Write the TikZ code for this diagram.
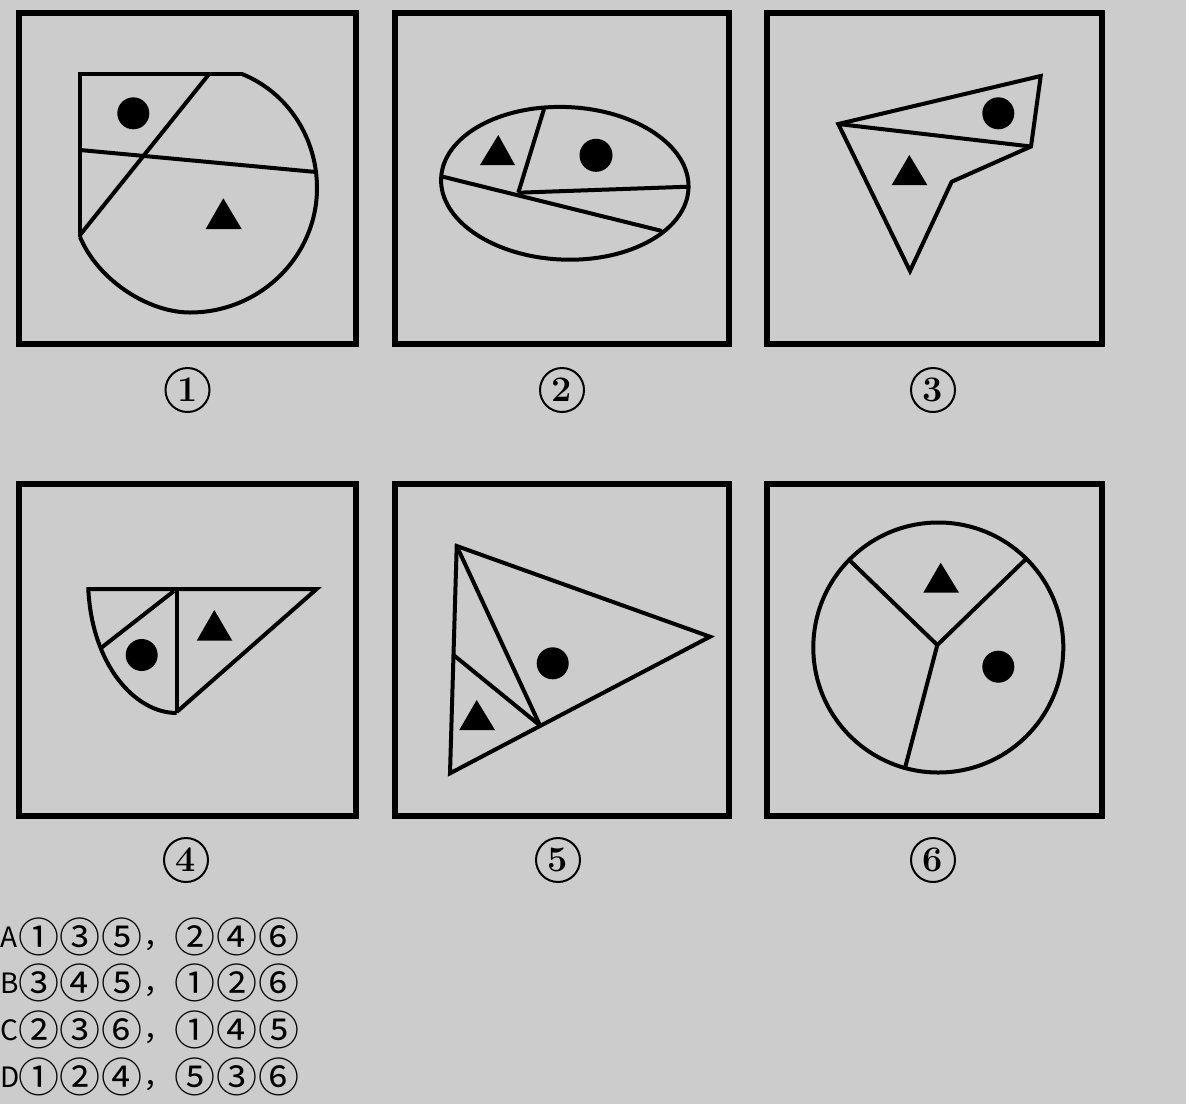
\documentclass[tikz,border=0pt]{standalone}
\usepackage{fontspec}
\newfontfamily\cjk{Noto Sans CJK SC}
\definecolor{bgc}{RGB}{204,204,204}
\newcommand\cdg[1]{\makebox[42pt][c]{\raisebox{-5pt}{\fontsize{41}{41}\selectfont #1}}}
\newcommand\cma{\makebox[30.7pt][l]{\fontsize{30}{30}\selectfont ，}}
\newcommand\olet[1]{\makebox[17.3pt][l]{\fontsize{28}{28}\selectfont #1}}
\begin{document}
\begin{tikzpicture}[x=1pt,y=-1pt,
  box/.style={draw=black,line width=6},
  shp/.style={draw=black,line width=4},
  dot/.style={fill=black},
  tri/.style={fill=black},
  lbl/.style={circle,draw=black,line width=2,minimum size=44,inner sep=0,font=\fontsize{36}{36}\selectfont\bfseries},
  opt/.style={anchor=base west,inner sep=0,font=\cjk}
]
\fill[bgc] (0,0) rectangle (1186,1104);
\useasboundingbox (0,0) rectangle (1186,1104);

% frames
\draw[box] (18.7,13.3) rectangle (355.7,343.7);
\draw[box] (394.5,13.3) rectangle (728.7,343.7);
\draw[box] (767.3,13.3) rectangle (1102.3,343.7);
\draw[box] (18.7,484) rectangle (355.7,816);
\draw[box] (394.5,484) rectangle (728.7,816);
\draw[box] (767.3,484) rectangle (1102.3,816);

% labels
\node[lbl] (l1) at (187.5,390) {1};
\node[lbl] (l2) at (562,390) {2};
\node[lbl] (l3) at (933,390) {3};
\node[lbl] (l4) at (186,860) {4};
\node[lbl] (l5) at (558,860) {5};
\node[lbl] (l6) at (933,860) {6};

% panel 1
\draw[shp] (243,74) -- (80,74) -- (80,237);
\draw[shp] (242,74) .. controls (288,92.6) and (317,138) .. (317,188)
  .. controls (317,256.5) and (260,312.5) .. (190,312.5)
  .. controls (148,312.5) and (98,280) .. (80,237);
\draw[shp] (208.3,75) -- (80,235);
\draw[shp] (80,150) -- (316,172);
\fill[dot] (133.3,113.3) circle[radius=16];
\fill[tri] (205.7,229) -- (241.7,229) -- (223.3,198.3) -- cycle;

% panel 2
\draw[shp,rotate around={-2.3:(564.8,183.3)}] (564.8,183.3) ellipse[x radius=123.8,y radius=76.3];
\draw[shp] (442,176.5) -- (662,231);
\draw[shp] (518.3,192.7) -- (544,109);
\draw[shp] (518.3,192.7) -- (688,186.7);
\fill[tri] (480,165) -- (515,165) -- (498.3,135) -- cycle;
\fill[dot] (596,155.3) circle[radius=16.5];

% panel 3
\draw[shp] (838.3,124) -- (1040.7,76) -- (1031,146.5) -- (951.7,181.7) -- (910,271) -- cycle;
\draw[shp] (838.3,124) -- (1031,146.5);
\fill[dot] (998.3,113.3) circle[radius=16];
\fill[tri] (891.7,185) -- (927.3,185) -- (909.3,155) -- cycle;

% panel 4
\draw[shp] (88.3,589) -- (316.7,589) -- (176.7,712);
\draw[shp] (176.7,589) -- (176.7,713);
\draw[shp] (88.3,587) -- (88.3,589) .. controls (92,665) and (135,713) .. (176.7,713);
\draw[shp] (101,648) -- (174,591);
\fill[dot] (141.7,655) circle[radius=16];
\fill[tri] (196.7,640.7) -- (232.3,640.7) -- (214.3,610) -- cycle;

% panel 5
\draw[shp] (456.7,546) -- (710,636.7) -- (450,773.3) -- cycle;
\draw[shp] (456.7,546) -- (540,725.5);
\draw[shp] (453.5,655) -- (540,725.5);
\fill[dot] (552.7,663.3) circle[radius=16];
\fill[tri] (459.3,730) -- (495,730) -- (476.7,700) -- cycle;

% panel 6
\draw[shp] (938.3,647.5) circle[radius=125];
\draw[shp] (937.3,645) -- (849.3,560);
\draw[shp] (937.3,645) -- (1026,559);
\draw[shp] (937.3,645) -- (905,768);
\fill[tri] (923.3,592.7) -- (959,592.7) -- (940.7,562.7) -- cycle;
\fill[dot] (998.3,666.7) circle[radius=16];

% options
\node[opt] (optA) at (0,947) {\olet{A}\cdg{①}\cdg{③}\cdg{⑤}\cma\cdg{②}\cdg{④}\cdg{⑥}};
\node[opt] (optB) at (0,993.7) {\olet{B}\cdg{③}\cdg{④}\cdg{⑤}\cma\cdg{①}\cdg{②}\cdg{⑥}};
\node[opt] (optC) at (0,1040.3) {\olet{C}\cdg{②}\cdg{③}\cdg{⑥}\cma\cdg{①}\cdg{④}\cdg{⑤}};
\node[opt] (optD) at (0,1087) {\olet{D}\cdg{①}\cdg{②}\cdg{④}\cma\cdg{⑤}\cdg{③}\cdg{⑥}};
\end{tikzpicture}
\end{document}
